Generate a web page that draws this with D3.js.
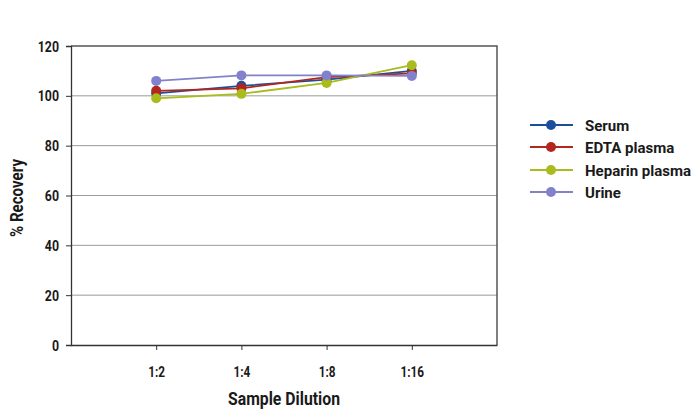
<!DOCTYPE html>
<html><head><meta charset="utf-8">
<script src="https://cdn.jsdelivr.net/npm/d3@7"></script>
<style>
html,body{margin:0;padding:0;background:#fff;}
svg text{font-family:Roboto,"Liberation Sans",sans-serif;font-weight:bold;fill:#1a1a1a;}
</style></head>
<body><svg id="c" width="694" height="415"></svg>
<script>
const categories = ["1:2","1:4","1:8","1:16"];
const seriesNames = ["Serum","EDTA plasma","Heparin plasma","Urine"];
const serum = [101, 104, 106.5, 110];
const edta = [102, 103, 107.5, 109];
const heparin = [99, 100.8, 105.2, 112.3];
const urine = [106, 108.2, 108.2, 108];
const colors = ["#1c4f9b","#b3261e","#aabb1e","#8282cc"];
const yTicks = [0,20,40,60,80,100,120];

const svg = d3.select("#c");
const L=71, R=497, T=46, B=345;
const x = d3.scaleLinear().domain([0,5]).range([L,R]);
const y = d3.scaleLinear().domain([0,120]).range([B,T]);
const data = [serum, edta, heparin, urine];

function condense(sel, factor){
  sel.each(function(){
    const w = this.getComputedTextLength();
    d3.select(this).attr("textLength", w*factor).attr("lengthAdjust","spacingAndGlyphs");
  });
}

svg.append("g").selectAll("line").data(yTicks.filter(d=>d>0&&d<120)).join("line")
  .attr("x1",L).attr("x2",R).attr("y1",d=>y(d)).attr("y2",d=>y(d))
  .attr("stroke","#9a9a9a").attr("stroke-width",1);
svg.append("path").attr("d",`M${L},${T}H${R}V${B}`).attr("fill","none").attr("stroke","#555").attr("stroke-width",1.5);

const ya = svg.append("g").attr("transform",`translate(${L},0)`)
  .call(d3.axisLeft(y).tickValues(yTicks).tickSize(5).tickPadding(7));
ya.select(".domain").attr("stroke","#333").attr("stroke-width",1.3);
ya.selectAll(".tick line").attr("stroke","#333");
ya.selectAll("text").style("font-size","14px").attr("dy","0.36em");
condense(ya.selectAll("text"), 0.88);

const xa = svg.append("g").attr("transform",`translate(0,${B})`)
  .call(d3.axisBottom(x).tickValues([1,2,3,4]).tickFormat(d=>categories[d-1]).tickSize(5).tickSizeOuter(0).tickPadding(16));
xa.select(".domain").attr("stroke","#333").attr("stroke-width",1.3);
xa.selectAll(".tick line").attr("stroke","#333");
xa.selectAll("text").style("font-size","15.5px");
condense(xa.selectAll("text"), 0.76);

const line = d3.line().x((d,i)=>x(i+1)).y(d=>y(d));
data.forEach((s,k)=>{
  svg.append("path").datum(s).attr("d",line).attr("fill","none")
    .attr("stroke",colors[k]).attr("stroke-width",1.8);
});
data.forEach((s,k)=>{
  svg.append("g").selectAll("circle").data(s).join("circle")
    .attr("cx",(d,i)=>x(i+1)).attr("cy",d=>y(d)).attr("r",5)
    .attr("fill",colors[k]);
});

svg.append("text").attr("transform","translate(23,198) rotate(-90)")
  .attr("text-anchor","middle").style("font-size","18px")
  .attr("textLength",78).attr("lengthAdjust","spacingAndGlyphs").text("% Recovery");
svg.append("text").attr("x",284).attr("y",405).attr("text-anchor","middle")
  .style("font-size","19px")
  .attr("textLength",112).attr("lengthAdjust","spacingAndGlyphs").text("Sample Dilution");

const lg = svg.append("g");
const legRows = [125,147,170,192];
seriesNames.forEach((n,i)=>{
  const yy = legRows[i];
  lg.append("line").attr("x1",530).attr("x2",573).attr("y1",yy).attr("y2",yy)
    .attr("stroke",colors[i]).attr("stroke-width",1.8);
  lg.append("circle").attr("cx",551).attr("cy",yy).attr("r",5).attr("fill",colors[i]);
  lg.append("text").attr("class","lt").attr("x",585).attr("y",yy+5.8).style("font-size","15.5px").text(n);
});
const lt = lg.selectAll("text.lt");
let ref = 1;
lt.each(function(){ if(this.textContent==="Heparin plasma") ref = 106/this.getComputedTextLength(); });
condense(lt, ref);
</script></body></html>
